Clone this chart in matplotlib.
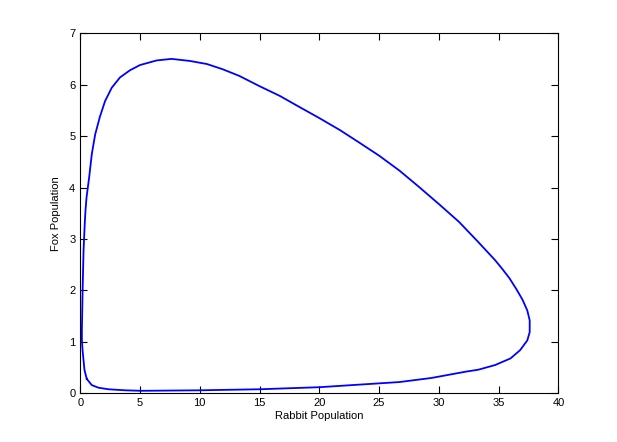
import matplotlib
matplotlib.use('Agg')
import matplotlib.pyplot as plt

rabbits = [0.55, 0.97, 1.53, 2.36, 3.75, 5.1, 10.0, 15.0, 20.0, 26.7, 29.4, 32.2, 33.3,
           34.7, 36.0, 36.8, 37.4, 37.6, 37.6, 37.4, 37.0, 36.5, 35.9, 35.3, 34.7, 33.3,
           31.7, 30.0, 28.3, 26.7, 25.0, 23.3, 21.7, 20.0, 18.3, 16.7, 15.0, 13.3,
           11.9, 10.6, 9.17, 7.64, 6.4, 5.0, 4.17, 3.33, 2.64, 2.08, 1.64, 1.25,
           0.97, 0.75, 0.53, 0.44, 0.38, 0.28, 0.2, 0.14, 0.14, 0.2, 0.36, 0.55]
foxes = [0.28, 0.16, 0.11, 0.08, 0.06, 0.05, 0.06, 0.08, 0.12, 0.22, 0.30, 0.42, 0.46,
         0.55, 0.68, 0.84, 1.03, 1.19, 1.42, 1.61, 1.82, 2.02, 2.24, 2.42, 2.59, 2.94,
         3.33, 3.68, 4.02, 4.33, 4.62, 4.88, 5.12, 5.35, 5.57, 5.78, 5.97, 6.17,
         6.30, 6.40, 6.46, 6.50, 6.47, 6.38, 6.28, 6.14, 5.94, 5.68, 5.37, 5.03,
         4.65, 4.20, 3.81, 3.55, 3.3, 2.78, 2.0, 1.22, 1.03, 0.83, 0.45, 0.28]

plt.rcParams['font.family'] = ['Liberation Sans', 'DejaVu Sans']

fig = plt.figure(figsize=(6.17, 4.42), dpi=100)
ax = fig.add_axes([0.13, 0.11, 0.775, 0.815])
ax.plot(rabbits, foxes, color='#0000ff', lw=1.3)

ax.set_xlim(0, 40)
ax.set_ylim(0, 7)
ax.set_xticks(range(0, 41, 5))
ax.set_yticks(range(0, 8))
ax.tick_params(direction='in', top=True, right=True, length=5, labelsize=8)
ax.set_xlabel('Rabbit Population', fontsize=8, labelpad=2)
ax.set_ylabel('Fox Population', fontsize=8, labelpad=6)

fig.savefig('out.png', dpi=100)
